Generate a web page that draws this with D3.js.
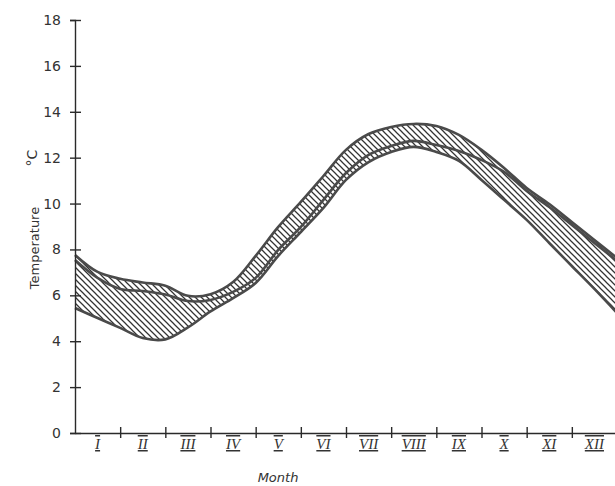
<!DOCTYPE html>
<html>
<head>
<meta charset="utf-8">
<script src="https://cdn.jsdelivr.net/npm/d3@7"></script>
<style>
  html, body { margin: 0; padding: 0; background: #fff; }
  svg { display: block; }
  .axis path, .axis line { stroke: #2a2a2a; stroke-width: 1.4; }
  .axis text { font-family: "DejaVu Sans", sans-serif; font-size: 14px; fill: #333; }
</style>
</head>
<body>
<div id="chart"></div>
<script>
// months sampled every half month, 0 = start of January, 12 = end of December
var monthPos = [0, 0.5, 1, 1.5, 2, 2.5, 3, 3.5, 4, 4.5, 5, 5.5, 6, 6.5, 7, 7.5, 8, 8.5, 9, 9.5, 10, 10.5, 11, 11.5, 12];
var upperT = [7.76, 7.02, 6.72, 6.56, 6.42, 5.98, 6.05, 6.58, 7.72, 8.98, 10.07, 11.20, 12.34, 13.03, 13.34, 13.47, 13.38, 12.99, 12.34, 11.55, 10.68, 9.98, 9.20, 8.41, 7.63];
var middleT = [7.54, 6.76, 6.28, 6.19, 6.04, 5.75, 5.80, 6.15, 6.76, 7.98, 8.98, 10.16, 11.33, 12.12, 12.51, 12.73, 12.55, 12.29, 11.90, 11.38, 10.55, 9.85, 9.07, 8.28, 7.50];
var lowerT = [5.45, 5.01, 4.58, 4.14, 4.08, 4.60, 5.30, 5.88, 6.54, 7.72, 8.76, 9.81, 11.03, 11.81, 12.25, 12.47, 12.25, 11.86, 11.03, 10.16, 9.29, 8.28, 7.28, 6.28, 5.23];

var monthLabels = ['I', 'II', 'III', 'IV', 'V', 'VI', 'VII', 'VIII', 'IX', 'X', 'XI', 'XII'];
var yTicks = [0, 2, 4, 6, 8, 10, 12, 14, 16, 18];
var monthTicks = [1, 2, 3, 4, 5, 6, 7, 8, 9, 10, 11];

var width = 615, height = 486;
var svg = d3.select('#chart').append('svg')
    .attr('width', width)
    .attr('height', height);

var x = d3.scaleLinear().domain([0, 12]).range([75, 617]);
var y = d3.scaleLinear().domain([0, 18]).range([433, 20]);

// hatching
var defs = svg.append('defs');
defs.append('pattern')
    .attr('id', 'hatch')
    .attr('patternUnits', 'userSpaceOnUse')
    .attr('width', 6)
    .attr('height', 6)
    .append('path')
    .attr('d', 'M0,0 L6,6 M-1,5 L1,7 M5,-1 L7,1')
    .attr('stroke', '#333')
    .attr('stroke-width', 1.25);

var band = monthPos.map(function (m, i) {
    return { m: m, up: upperT[i], mid: middleT[i], lo: lowerT[i] };
});

var curve = d3.curveCatmullRom.alpha(0.5);

svg.append('path')
    .datum(band)
    .attr('fill', 'url(#hatch)')
    .attr('d', d3.area()
        .x(function (d) { return x(d.m); })
        .y0(function (d) { return y(d.lo); })
        .y1(function (d) { return y(d.up); })
        .curve(curve));

['up', 'mid', 'lo'].forEach(function (k) {
    svg.append('path')
        .datum(band)
        .attr('fill', 'none')
        .attr('stroke', '#4a4a4a')
        .attr('stroke-width', 2.6)
        .attr('d', d3.line()
            .x(function (d) { return x(d.m); })
            .y(function (d) { return y(d[k]); })
            .curve(curve));
});

// axes
var axisY = svg.append('g')
    .attr('class', 'axis')
    .attr('transform', 'translate(75,0)')
    .call(d3.axisLeft(y).tickValues(yTicks).tickSizeOuter(0).tickSize(5).tickPadding(9));
axisY.selectAll('.tick line').attr('x1', -5).attr('x2', 6);

var axisX = svg.append('g')
    .attr('class', 'axis')
    .attr('transform', 'translate(0,433)')
    .call(d3.axisBottom(x).tickValues(monthTicks).tickSizeOuter(0).tickFormat(''));
axisX.selectAll('.tick line').attr('y1', -6).attr('y2', 5);

svg.append('g')
    .selectAll('text')
    .data(monthLabels)
    .join('text')
    .attr('x', function (d, i) { return x(i + 0.5); })
    .attr('y', 449)
    .attr('text-anchor', 'middle')
    .style('font-family', '"Liberation Serif", serif')
    .style('font-style', 'italic')
    .style('font-size', '15px')
    .style('fill', '#333')
    .style('text-decoration', 'underline overline')
    .text(function (d) { return d; });

svg.append('text')
    .attr('x', 278)
    .attr('y', 482)
    .attr('text-anchor', 'middle')
    .style('font-family', '"DejaVu Sans", sans-serif')
    .style('font-style', 'italic')
    .style('font-size', '13px')
    .style('fill', '#333')
    .text('Month');

svg.append('text')
    .attr('transform', 'translate(39,248) rotate(-90)')
    .attr('text-anchor', 'middle')
    .style('font-family', '"DejaVu Sans", sans-serif')
    .style('font-size', '13px')
    .style('fill', '#333')
    .text('Temperature');

svg.append('text')
    .attr('transform', 'translate(37,158) rotate(-90)')
    .attr('text-anchor', 'middle')
    .style('font-family', '"DejaVu Sans", sans-serif')
    .style('font-size', '14px')
    .style('fill', '#333')
    .text('°C');
</script>
</body>
</html>
